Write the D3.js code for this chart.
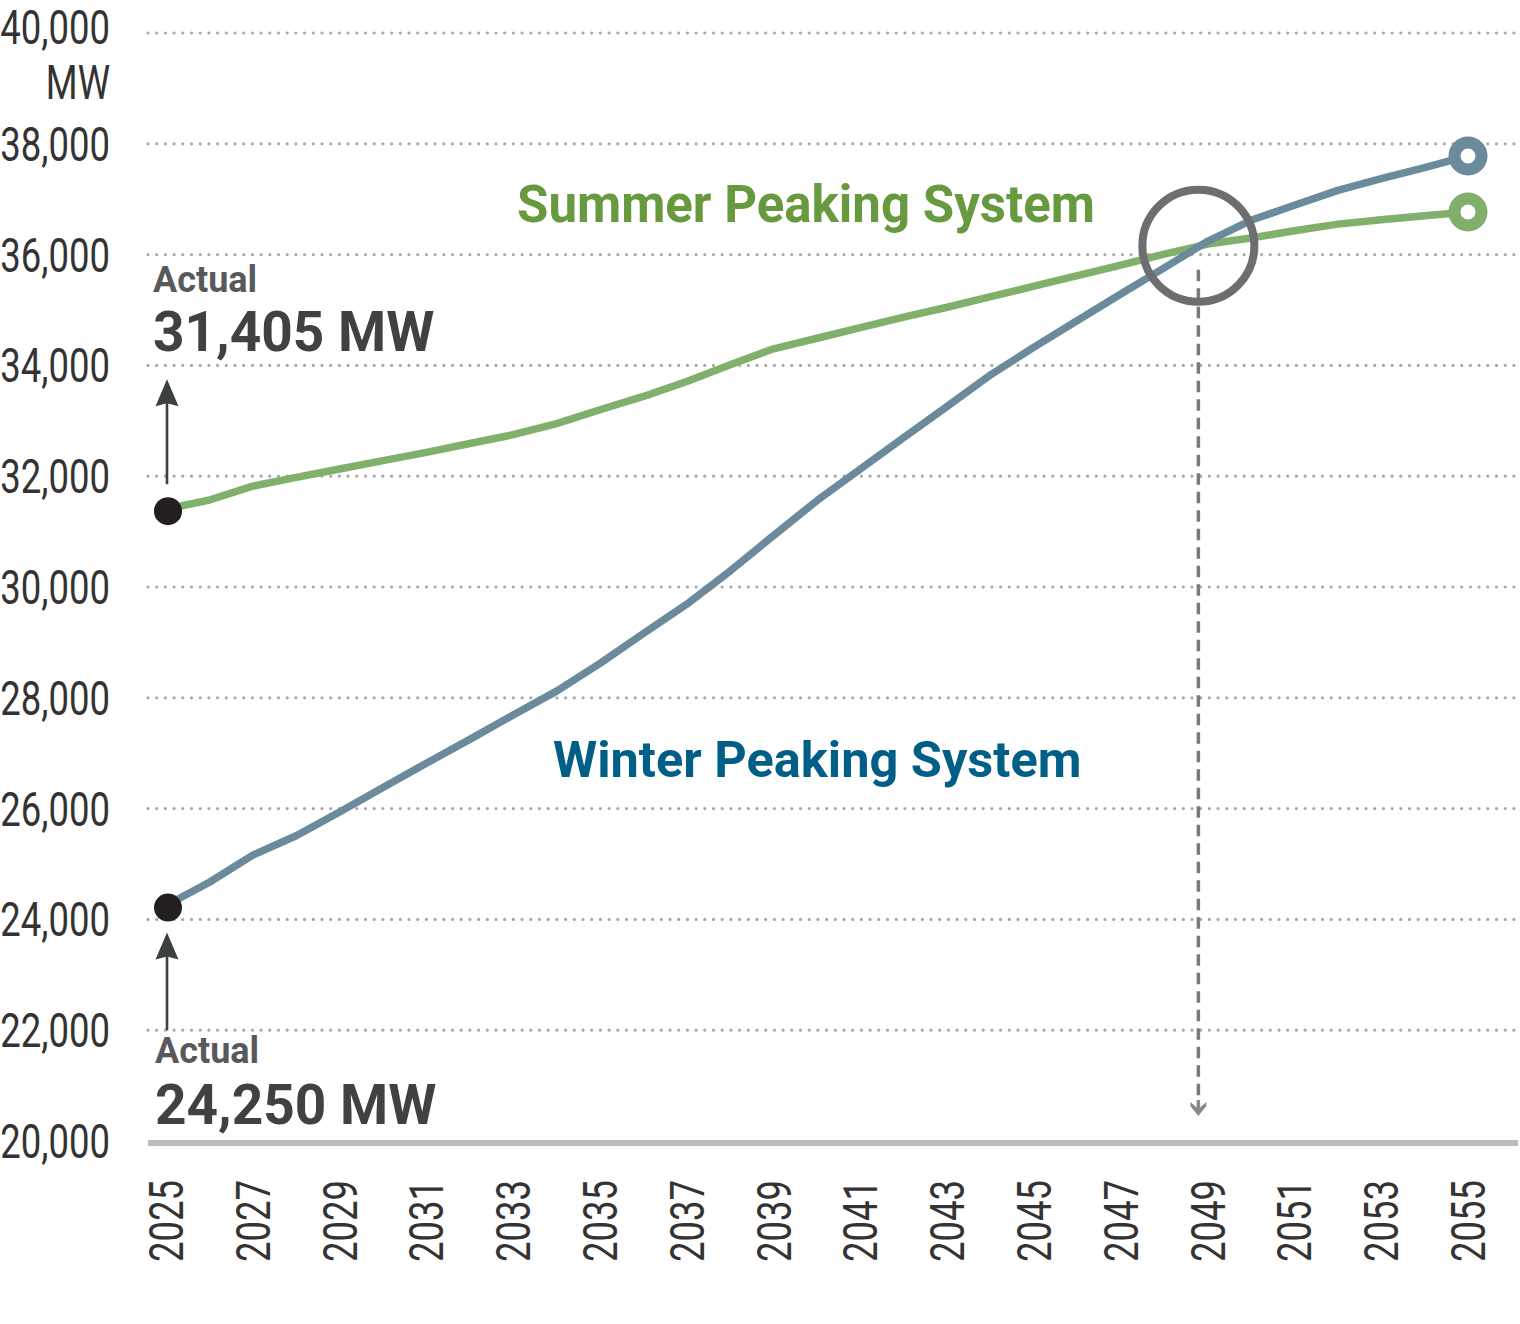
<!DOCTYPE html>
<html><head><meta charset="utf-8">
<script src="https://cdn.jsdelivr.net/npm/d3@7"></script>
<style>html,body{margin:0;padding:0;background:#fff;} svg{display:block;}</style>
</head><body><svg id="chart" width="1520" height="1324"></svg>
<script>
// ---- data ----
const years = [2025,2026,2027,2028,2029,2030,2031,2032,2033,2034,2035,2036,2037,2038,2039,2040,
               2041,2042,2043,2044,2045,2046,2047,2048,2049,2050,2051,2052,2053,2054,2055];
const summerPeak = [31405,31570,31820,31980,32130,32280,32430,32590,32750,32950,33200,33440,33710,34010,34300,34490,
                    34680,34870,35050,35240,35430,35620,35810,36010,36190,36300,36430,36550,36630,36700,36770];
const winterPeak = [24250,24670,25160,25510,25940,26380,26820,27250,27690,28120,28620,29160,29690,30290,30930,31560,
                    32130,32700,33260,33830,34330,34810,35290,35760,36240,36620,36890,37160,37370,37570,37780];
const xTickYears = [2025,2027,2029,2031,2033,2035,2037,2039,2041,2043,2045,2047,2049,2051,2053,2055];
const yTickValues = [20000,22000,24000,26000,28000,30000,32000,34000,36000,38000,40000];
const seriesNames = ["Summer Peaking System","Winter Peaking System"];
const actualLabels = ["31,405 MW","24,250 MW"];

// ---- setup ----
const svg = d3.select("#chart");
const x = d3.scaleLinear().domain([2025,2055]).range([166,1468]);
const y = d3.scaleLinear().domain([20000,40000]).range([1141,33]);
const FONT = "Roboto, 'Noto Sans', sans-serif";
const GREEN = "#80b06b", BLUE = "#6b8a9c", GREEN_TXT = "#67993f", BLUE_TXT = "#005e87";

// gridlines
svg.append("g").selectAll("line").data(yTickValues.filter(v => v > 20000)).join("line")
  .attr("x1", 148).attr("x2", 1520).attr("y1", d => y(d)).attr("y2", d => y(d))
  .attr("stroke", "#a9a9ab").attr("stroke-width", 3.2)
  .attr("stroke-dasharray", "0,8.7").attr("stroke-linecap", "round");

// baseline
svg.append("line").attr("x1", 148).attr("x2", 1518)
  .attr("y1", y(20000) + 2).attr("y2", y(20000) + 2)
  .attr("stroke", "#bcbdbf").attr("stroke-width", 6);

// y tick labels (condensed look)
svg.append("g").selectAll("text").data(yTickValues).join("text")
  .attr("transform", d => `translate(110,${y(d) + (d === 40000 ? 11 : 17)}) scale(0.76,1)`)
  .attr("text-anchor", "end").attr("font-family", FONT).attr("font-size", 48)
  .attr("fill", "#333").text(d => d3.format(",")(d));
svg.append("text").attr("transform", `translate(110,${y(40000) + 66}) scale(0.76,1)`)
  .attr("text-anchor", "end").attr("font-family", FONT).attr("font-size", 48)
  .attr("fill", "#333").text("MW");

// x tick labels rotated
svg.append("g").selectAll("text").data(xTickYears).join("text")
  .attr("transform", d => `translate(${x(d) + 17},1180) rotate(-90) scale(0.76,1)`)
  .attr("text-anchor", "end").attr("font-family", FONT).attr("font-size", 48)
  .attr("fill", "#333").text(d => d);

// lines
const summerData = years.map((yr, i) => ({year: yr, v: summerPeak[i]}));
const winterData = years.map((yr, i) => ({year: yr, v: winterPeak[i]}));
const line = d3.line().x(d => x(d.year)).y(d => y(d.v));
svg.append("path").datum(summerData).attr("d", line).attr("fill", "none")
  .attr("stroke", GREEN).attr("stroke-width", 7.5).attr("stroke-linejoin", "round");
svg.append("path").datum(winterData).attr("d", line).attr("fill", "none")
  .attr("stroke", BLUE).attr("stroke-width", 7.5).attr("stroke-linejoin", "round");

// crossover
let cross = null;
for (let i = 0; i < years.length - 1; i++) {
  const d0 = winterPeak[i] - summerPeak[i], d1 = winterPeak[i+1] - summerPeak[i+1];
  if (d0 <= 0 && d1 > 0) {
    const t = -d0 / (d1 - d0);
    cross = {year: years[i] + t, v: summerPeak[i] + t * (summerPeak[i+1] - summerPeak[i])};
  }
}
const cx = x(cross.year) - 2, cy = y(cross.v);

// dashed drop line with arrowhead
const tipY = y(20000) - 25;
svg.append("line").attr("x1", cx).attr("x2", cx).attr("y1", cy + 24).attr("y2", tipY - 14)
  .attr("stroke", "#7a7a7a").attr("stroke-width", 3.5).attr("stroke-dasharray", "11.5,7");
svg.append("path")
  .attr("d", `M${cx},${tipY} L${cx-8},${tipY-10} L${cx-8},${tipY-14} L${cx},${tipY-7} L${cx+8},${tipY-14} L${cx+8},${tipY-10} Z`)
  .attr("fill", "#888");
svg.append("rect").attr("x", cx - 1.75).attr("y", tipY - 16).attr("width", 3.5).attr("height", 10).attr("fill", "#888");

// highlight circle
svg.append("circle").attr("cx", cx).attr("cy", cy).attr("r", 56)
  .attr("fill", "none").attr("stroke", "#6d6e70").attr("stroke-width", 8);

// end markers
const last = years.length - 1;
[[summerPeak, GREEN], [winterPeak, BLUE]].forEach(([arr, c]) => {
  svg.append("circle").attr("cx", x(years[last])).attr("cy", y(arr[last])).attr("r", 13.5)
    .attr("fill", "#fff").attr("stroke", c).attr("stroke-width", 12);
});

// start dots
[summerPeak, winterPeak].forEach(arr => {
  svg.append("circle").attr("cx", x(years[0]) + 2).attr("cy", y(arr[0]) + 2).attr("r", 14).attr("fill", "#231f20");
});

// arrows
const AC = "#3d4040";
function upArrow(ax, tip, bottom) {
  svg.append("line").attr("x1", ax).attr("x2", ax).attr("y1", bottom).attr("y2", tip + 20)
    .attr("stroke", AC).attr("stroke-width", 2.6);
  svg.append("path").attr("d", `M${ax},${tip} L${ax-11.5},${tip+27} L${ax},${tip+24} L${ax+11.5},${tip+27} Z`)
    .attr("fill", AC);
}
const ax = x(years[0]) + 1;
upArrow(ax, y(summerPeak[0]) - 130, y(summerPeak[0]) - 25);
upArrow(ax, y(winterPeak[0]) + 27, y(22000));

// actual labels
function actual(tx, y1, y2, big) {
  svg.append("text").attr("x", tx).attr("y", y1).attr("font-family", FONT).attr("font-weight", 700)
    .attr("font-size", 36).attr("fill", "#58595b").text("Actual");
  svg.append("text").attr("x", tx).attr("y", y2).attr("font-family", FONT).attr("font-weight", 700)
    .attr("font-size", 55).attr("fill", "#414042").text(big);
}
actual(153, 292, 351, actualLabels[0]);
actual(155, 1063, 1124, actualLabels[1]);

// series labels
svg.append("text").attr("x", 517).attr("y", 222).attr("font-family", FONT).attr("font-weight", 700)
  .attr("font-size", 51).attr("fill", GREEN_TXT).text(seriesNames[0]);
svg.append("text").attr("x", 553).attr("y", 777).attr("font-family", FONT).attr("font-weight", 700)
  .attr("font-size", 50.5).attr("fill", BLUE_TXT).text(seriesNames[1]);
</script>
</body></html>
